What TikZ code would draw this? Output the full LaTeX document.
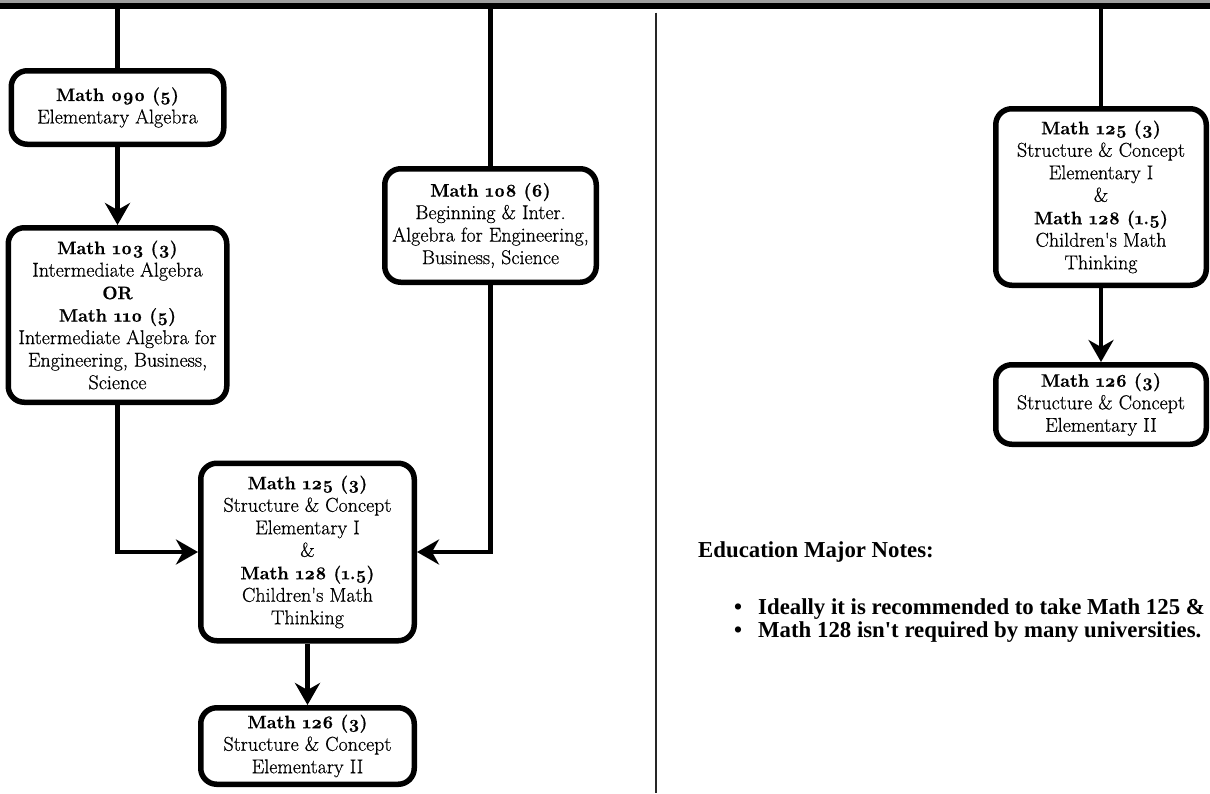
\documentclass[tikz,border=0pt]{standalone}
\usepackage{fontspec}
\setmainfont{Latin Modern Roman}[Numbers=OldStyle, UprightFeatures={FakeBold=0.6}, BoldFeatures={FakeBold=0.8}]
\newfontfamily\notesfont{Liberation Serif}
\usetikzlibrary{arrows.meta}
\newcommand\mhead[1]{{\fontsize{18}{22.5}\selectfont\bfseries #1}}
\begin{document}
\begin{tikzpicture}[x=1pt,y=-1pt,
  box/.style={draw=black, line width=5.5pt, rounded corners=16pt, fill=white,
    align=center, inner sep=1pt, font=\fontsize{20}{22.5}\selectfont},
  conn/.style={line width=4.5pt},
  arr/.style={conn, -{Stealth[length=22pt,width=25pt,inset=7pt]}},
  note/.style={anchor=base west, inner sep=0pt, font=\notesfont\bfseries\fontsize{22.8}{26}\selectfont},
  bul/.style={anchor=base, inner sep=0pt, font=\notesfont\bfseries\fontsize{22.8}{26}\selectfont},
]
\useasboundingbox (0,0) rectangle (1210,793);
\fill[white] (0,0) rectangle (1210,793);
\fill[gray!75] (0,0) rectangle (1210,3);
\fill[black] (0,2.5) rectangle (1210,8.5);

% divider
\coordinate (d1) at (656,12.5);
\coordinate (d2) at (656,793);
\draw[line width=1.6pt, black!85] (d1) -- (d2);

% left column
\node[box, minimum width=212.5pt, minimum height=73.5pt] (n090) at (117.5,107.5)
  {\mhead{Math 090 (5)}\\Elementary Algebra};
\node[box, minimum width=218.5pt, minimum height=174.5pt] (n103) at (117.5,315)
  {\mhead{Math 103 (3)}\\Intermediate Algebra\\\mhead{OR}\\\mhead{Math 110 (5)}\\Intermediate Algebra for\\Engineering, Business,\\Science};
\node[box, minimum width=211.5pt, minimum height=113.5pt] (n108) at (490.5,225.5)
  {\mhead{Math 108 (6)}\\Beginning \& Inter.\\Algebra for Engineering,\\Business, Science};
\node[box, minimum width=213.5pt, minimum height=177.5pt] (n125L) at (307.5,552)
  {\mhead{Math 125 (3)}\\Structure \& Concept\\Elementary I\\\&\\\mhead{Math 128 (1.5)}\\Children\textquotesingle s Math\\Thinking};
\node[box, minimum width=213.5pt, minimum height=76.5pt] (n126L) at (307.5,746)
  {\mhead{Math 126 (3)}\\Structure \& Concept\\Elementary II};

% right column
\node[box, minimum width=210.5pt, minimum height=176.5pt] (n125R) at (1101,197)
  {\mhead{Math 125 (3)}\\Structure \& Concept\\Elementary I\\\&\\\mhead{Math 128 (1.5)}\\Children\textquotesingle s Math\\Thinking};
\node[box, minimum width=210.5pt, minimum height=79.5pt] (n126R) at (1101,404.5)
  {\mhead{Math 126 (3)}\\Structure \& Concept\\Elementary II};

% top feed lines
\coordinate (t1) at (117.5,8.5);
\coordinate (t2) at (490.5,8.5);
\coordinate (t3) at (1101,8.5);
\draw[conn] (t1) -- (n090);
\draw[conn] (t2) -- (n108);
\draw[conn] (t3) -- (n125R);

% arrows
\draw[arr] (n090) -- (n103);
\draw[arr] (n103.south) |- (n125L.west);
\draw[arr] (n108.south) |- (n125L.east);
\draw[arr] (n125L) -- (n126L);
\draw[arr] (n125R) -- (n126R);

% notes
\node[note] (hdr) at (698,557) {Education Major Notes:};
\node[bul] (b1) at (738,614) {•};
\node[note] (i1) at (758,614) {Ideally it is recommended to take Math 125 \&};
\node[bul] (b2) at (738,637) {•};
\node[note] (i2) at (758,637) {Math 128 isn\textquotesingle t required by many universities.};
\end{tikzpicture}
\end{document}
